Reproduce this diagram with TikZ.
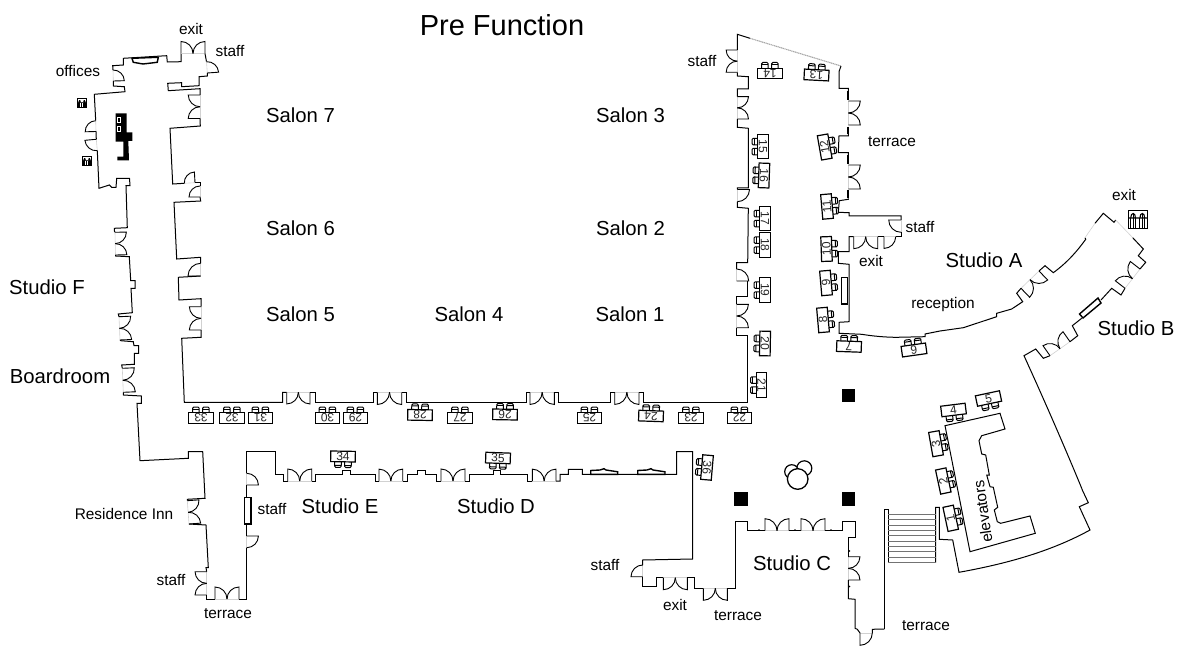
\documentclass[tikz,border=0pt]{standalone}
\usepackage{fontspec}
\setmainfont{Liberation Sans}
\usetikzlibrary{calc}
\tikzset{
 wall/.style={line width=1pt,black,line join=miter},
 leaf/.style={line width=0.9pt,black},
 opening/.style={line width=0.6pt,black!18},
 glaze/.style={line width=1.1pt,black!35,dash pattern=on 1.2pt off 0.6pt},
 post/.style={line width=2.2pt,black},
 counter/.style={line width=1.4pt,black,fill=white},
 blk/.style={fill=black,draw=none},
 big/.style={font=\fontsize{20.3}{22}\selectfont,inner sep=0pt},
 small/.style={font=\fontsize{15.4}{17}\selectfont,inner sep=0pt},
 title/.style={font=\fontsize{29}{31}\selectfont,inner sep=0pt},
 boothnum/.style={font=\fontsize{12}{13}\selectfont,inner sep=0pt,transform shape,text=black!85},
 tbl/.style={line width=1.2pt,black},
 chair/.style={line width=1pt,black},
}
\newcommand\ddoor[3]{%
 \coordinate (dA) at #1; \coordinate (dB) at #2; \coordinate (dM) at ($(dA)!.5!(dB)$);
 \pgfmathsetmacro\dang{-1*(#3)}%
 \coordinate (dT) at ($(dA)!.5!#3:(dB)$);
 \coordinate (dU) at ($(dB)!.5!\dang:(dA)$);
 \draw[opening] (dA)--(dB);
 \draw[leaf] (dA)--(dT) .. controls ($(dT)+.55*(dM)-.55*(dA)$) and ($(dM)+.55*(dT)-.55*(dA)$) .. (dM);
 \draw[leaf] (dB)--(dU) .. controls ($(dU)+.55*(dM)-.55*(dB)$) and ($(dM)+.55*(dU)-.55*(dB)$) .. (dM);
}
\newcommand\sdoor[3]{%
 \coordinate (dA) at #1; \coordinate (dB) at #2;
 \coordinate (dT) at ($(dA)!1!#3:(dB)$);
 \draw[opening] (dA)--(dB);
 \draw[leaf] (dA)--(dT) .. controls ($(dT)+.55*(dB)-.55*(dA)$) and ($(dB)+.55*(dT)-.55*(dA)$) .. (dB);
}
\newcommand\booth[4]{%
 \begin{scope}[shift={(#1,#2)},rotate=#3]
  \draw[chair,rounded corners=1.2pt] (-8.2,5.3)--(-8.2,11)--(-1.6,11)--(-1.6,5.3);
  \draw[chair,rounded corners=1.2pt] (1.8,5.3)--(1.8,11)--(8.4,11)--(8.4,5.3);
  \draw[chair] (-8.2,9)--(-1.6,9) (1.8,9)--(8.4,9);
  \draw[tbl,fill=white] (-12.3,-5.3) rectangle (12.3,5.3);
  \node[boothnum] (n#4) at (0,0) {#4};
 \end{scope}
}
\newcommand\wc[4]{%
 \begin{scope}[shift={(#1,#2)},scale=#3]
  \draw[line width=0.8pt] (0,0) rectangle (9.4,9.2);
  \draw[line width=#4] (1.2,4)--(1.2,9.2) (3.6,4)--(3.6,9.2) (5.8,4)--(5.8,9.2) (8.2,4)--(8.2,9.2) (2.4,1.4)--(2.4,9.2) (7,1.4)--(7,9.2);
  \draw[line width=#4] (1.2,4) .. controls (1.2,1) and (3.6,1) .. (3.6,4) (5.8,4) .. controls (5.8,1) and (8.2,1) .. (8.2,4) (0,4)--(9.4,4);
 \end{scope}
}
\begin{document}
\begin{tikzpicture}[x=1pt,y=-1pt]
\useasboundingbox (0,0) rectangle (1178,647);
% --- west wing
\draw[wall] (95.7,120.7)--(94.3,94.3)--(125,91.7)--(124.3,86.7)--(113.3,86)--(113.3,81);
\sdoor{(113.3,81)}{(113,70)}{-90}
\draw[wall] (113,70)--(112.7,65.7)--(123.3,65)--(123.3,58.3)--(166.7,55.7)--(167.3,62)--(181,61.7)--(181,53.5);
\ddoor{(181,53.5)}{(205,53.5)}{90}
\draw[wall] (205,53.5)--(206.5,61.7);
\sdoor{(207.3,73)}{(206.5,61.7)}{-90}
\draw[wall] (207.3,73)--(207.3,76)--(199,76.7)--(199,85.7)--(181.7,86.7)--(181.7,82.7)--(167.7,83.3)--(168.3,90.7)--(200,88.7)--(200,95);
\ddoor{(200,95)}{(200,118.5)}{-90}
\draw[wall] (200,118.5)--(200.3,126)--(170,128.3)--(172.7,184)--(184.3,183.3);
\sdoor{(195,182.7)}{(184.3,183.3)}{-90}
\draw[wall] (195,182.7)--(200,182.7)--(200,186);
\sdoor{(200,197)}{(200,186)}{90}
\draw[wall] (200,197)--(200.7,201)--(174,202.3)--(176.7,259)--(200.7,257.3)--(200.7,263.3);
\sdoor{(200.7,276)}{(200.7,263.3)}{90}
\draw[wall] (200.7,276)--(178.3,277.3)--(179,300)--(201,298.7)--(201,306.7);
\ddoor{(201,306.7)}{(201,330)}{-90}
\draw[wall] (201,330)--(201,337.3)--(181.7,338.3)--(184.3,402.3)--(282.7,402.3)--(282.7,392.3)--(286.7,392.3);
\ddoor{(286.7,392.3)}{(310,392.3)}{-90}
\draw[wall] (310,392.3)--(315,392.3)--(315,402.3)--(373.3,402.3)--(373.3,392.3)--(377.3,392.3);
\ddoor{(377.3,392.3)}{(401.7,392.3)}{-90}
\draw[wall] (401.7,392.3)--(406.7,392.3)--(406.7,402.3)--(526,402.3)--(526,392.3)--(530,392.3);
\ddoor{(530,392.3)}{(554.3,392.3)}{-90}
\draw[wall] (554.3,392.3)--(558.7,392.3)--(558.7,402.3)--(610.7,402.3)--(610.7,392.3)--(614.7,392.3);
\ddoor{(614.7,392.3)}{(639,392.3)}{-90}
\draw[wall] (639,392.3)--(643,392.3)--(643,402.3)--(747.7,402.3)--(747.7,335)--(736.7,335)--(736.7,327.7);
\ddoor{(736.7,304.3)}{(736.7,327.7)}{90}
\draw[wall] (736.7,304.3)--(736.7,296.7)--(747.7,296.7)--(747.7,281);
\sdoor{(736.7,281)}{(736.7,269)}{-90}
\draw[wall] (736.7,269)--(736.7,262.7)--(747.7,262.7)--(748.3,208.3)--(737.3,207.3)--(737.3,201.7);
\sdoor{(737.3,189.5)}{(737.3,201.7)}{90}
\draw[wall] (737.3,189.5)--(737.3,188)--(748.3,188)--(748.3,128.3)--(737.3,127.3)--(737.3,119);
\ddoor{(737.3,96.7)}{(737.3,119)}{90}
\draw[wall] (737.3,96.7)--(737.3,89)--(748.3,89)--(748.3,76.7)--(737.3,76)--(737.3,72.3);
\ddoor{(737.3,50)}{(737.3,72.3)}{-90}
\draw[wall] (737.3,50)--(737.3,34.3)--(750,38.3);
\draw[glaze] (750,38.3)--(841,66);
\draw[wall] (841,66)--(839,71.7)--(839,88.3)--(848.3,88.3)--(848.3,91);
\draw[post] (848.3,91)--(848.3,100);
\ddoor{(848.3,101)}{(848.3,125)}{90}
\draw[post] (848.3,126.7)--(848.3,134);
\draw[wall] (848.3,134)--(848.3,136)--(839,136)--(838.3,152.7)--(848.3,152.7)--(848.3,155);
\draw[post] (848.3,155.5)--(848.3,164);
\ddoor{(848.3,165)}{(848.3,189)}{90}
\draw[post] (848.3,190)--(848.3,198.3);
\draw[wall] (848.3,198.3)--(848.3,199.3)--(839.3,200.7)--(838.3,212.3)--(849,212.7)--(849,216)--(901,216)--(901,220);
\sdoor{(901,220)}{(901,232.3)}{-90}
\draw[wall] (901,232.3)--(901,236.7)--(895.7,236.7);
\sdoor{(884,236.7)}{(895.7,236.7)}{-90}
\draw[wall] (884,236.7)--(877.7,236.7);
\ddoor{(853.7,236.7)}{(877.7,236.7)}{-90}
\draw[wall] (853.7,236.7)--(849,236.7)--(849,251.7)--(838.3,251.7)--(838.3,263.3)--(849,264.3)--(849,321.7)--(839,322.3)--(839,333.3)--(861.7,334.3) .. controls (872,336) and (885,337.3) .. (896.7,337.3)--(925,336.7)--(925,334)--(940,331)--(963.3,327.7)--(996.7,316.7)--(996.7,313.3)--(1011.7,309)--(1022.7,301.7)--(1016.7,293.3)--(1021,288.3);
\ddoor{(1021,288.3)}{(1039,271)}{-90}
\draw[wall] (1039,271)--(1045,265.7)--(1053.3,272.7) .. controls (1068,262) and (1078,250) .. (1085.7,239.3)--(1085,237.7);
\draw[opening] (1085,237.7)--(1095,223.3);
\draw[wall] (1095,223.3)--(1103.3,213.3)--(1114,222.3)--(1115.7,220);
\draw[opening] (1115.7,220)--(1132.7,237.7);
\draw[wall] (1132.7,237.7)--(1143.3,249)--(1138.3,255.7)--(1145.7,262.3)--(1140,269);
\ddoor{(1140,269)}{(1125,288.3)}{-90}
\draw[wall] (1125,288.3)--(1121,295)--(1111.7,288.3)--(1101,300);
\draw[counter] (1098,298)--(1101,303)--(1083,318)--(1079.5,314)--cycle;
\draw[wall] (1081.7,318.3)--(1072.3,325.7)--(1077.7,335.7)--(1070,341.7);
\ddoor{(1070,341.7)}{(1050,355.7)}{-90}
\draw[wall] (1050,355.7)--(1043.3,358.3)--(1035.7,349)--(1024,355.7)--(1035,380) .. controls (1052,418) and (1068,455) .. (1081.7,488.3)--(1082.3,490)--(1088.3,502.7)--(1079.3,506.7)--(1090,530) .. controls (1050,552) and (1005,564) .. (959,572.3)--(952.7,540)--(939.3,539.3)--(939.3,507.3)--(935.7,507.3)--(935.7,562.7);
% stairs
\draw[wall] (884.3,629)--(884.3,509.3)--(888.3,509.3)--(888.3,562.7);
\foreach \sy in {514.3,519.7,525.1,530.4,535.8,541.2,546.6,551.9,557.3,562.7}
  \draw[line width=1pt,black!55] (888.3,\sy)--(935.7,\sy);
% elevators core
\draw[wall] (945,425.7)--(1000,413.3)--(1005,429)--(981.7,435.7)--(979,440.7)--(981.7,454)--(985.7,455)--(989.3,475)--(986.7,475)--(990,486.7)--(993.3,487.3)--(997.7,507.3)--(994.3,510)--(997.3,521.7)--(1000.7,523.3)--(1030,516)--(1035.3,533.3)--(970,551.7)--cycle;
% --- left side going south
\sdoor{(96,131.5)}{(95.7,120.7)}{90}
\draw[wall] (96,131.5)--(96.3,139.3);
\sdoor{(96.3,139.3)}{(97.3,150.7)}{-90}
\draw[wall] (97.3,150.7)--(99,188.3)--(109.3,185)--(111.7,187.3)--(116,187.3)--(116.7,178.3)--(129.5,178.3)--(130,185.7)--(126,185.7)--(127.3,227.7)--(114.3,228.3)--(114.3,231)--(115,232.3);
\ddoor{(115,232.3)}{(115.5,255)}{90}
\draw[wall] (115.5,255)--(115.7,256)--(129.3,256.7)--(130.7,280.7)--(135,280.7)--(135,288.3)--(131,288.3)--(132.3,312.7)--(118.3,314)--(119,316.7);
\ddoor{(119,316.7)}{(120,340)}{90}
\draw[wall] (120,340)--(120.7,340.7)--(133.3,341.7)--(134,345.7)--(138.7,345.7)--(138.7,353.3)--(134.3,353.3)--(134.3,364.3)--(121.7,365)--(122.3,368.3);
\ddoor{(122.3,368.3)}{(123.3,392.3)}{90}
\draw[wall] (123.3,392.3)--(123.3,395)--(141.3,396)--(141.3,403.3)--(137,403.3)--(140,460.7)--(188.3,458.3)--(188.3,451.7)--(202.7,451.7)--(205,498.3)--(187.3,499.3)--(187.3,500.7);
\ddoor{(187.3,500.7)}{(189,524)}{90}
\draw[wall] (189,524)--(206,525)--(208.3,567.7)--(206,567.7)--(206.7,571.7);
\ddoor{(206.7,571.7)}{(206.7,595)}{-90}
\draw[wall] (206.7,595)--(206.7,599)--(215,599);
\ddoor{(215,599)}{(239,599)}{90}
\draw[wall] (239,599)--(246.7,599)--(246.7,547.7);
\sdoor{(246.7,536)}{(246.7,547.7)}{90}
\draw[wall] (246.7,536)--(246.7,485);
\sdoor{(246.7,485)}{(246.7,473.3)}{-90}
\draw[wall] (246.7,473.3)--(246.7,451.7)--(275,451.7)--(275,474)--(283.3,474)--(283.3,481)--(287.7,481);
\ddoor{(287.7,481)}{(311.7,481)}{90}
\draw[wall] (311.7,481)--(315.7,481)--(315.7,474)--(342.7,474)--(342.7,470)--(350,470)--(350,474)--(375,474)--(375,481)--(379,481);
\ddoor{(379,481)}{(402.7,481)}{90}
\draw[wall] (402.7,481)--(407.3,481)--(407.3,474.3)--(417.3,474.3)--(417.3,470)--(425.7,470)--(425.7,474.3)--(436.7,474.3)--(436.7,481)--(441,481);
\ddoor{(441,481)}{(465,481)}{90}
\draw[wall] (465,481)--(469.3,481)--(469.3,474.3)--(493.3,474.3)--(493.3,470)--(500.7,470)--(500.7,474.3)--(527.3,474.3)--(527.3,481)--(532.3,481);
\ddoor{(532.3,481)}{(556,481)}{90}
\draw[wall] (556,481)--(560,481)--(560,474.3)--(568.3,474.3)--(568.3,469.3)--(582.3,469.3)--(582.3,474.3)--(676.7,474.3)--(676.7,451.7)--(692.7,451.7)--(692.7,559)--(642.7,560)--(642.7,565);
\sdoor{(642.7,576.7)}{(642.7,565)}{90}
\draw[wall] (642.7,576.7)--(642.7,586.7)--(656.7,586.7)--(656.7,577.7)--(663.3,577.7);
\ddoor{(663.3,577.7)}{(687.3,577.7)}{-90}
\draw[wall] (687.3,577.7)--(694,577.7)--(694,588.3)--(703.3,588.3);
\ddoor{(703.3,588.3)}{(727.3,588.3)}{-90}
\draw[wall] (727.3,588.3)--(735,588.3)--(735,521)--(747.7,521)--(747.7,530.7)--(765,530.7);
\ddoor{(765,530.7)}{(789,530.7)}{90}
\draw[wall] (789,530.7)--(801,530.7);
\ddoor{(801,530.7)}{(825,530.7)}{90}
\draw[wall] (825,530.7)--(842.3,530.7)--(842.3,521)--(855,521)--(855,537.7)--(848.3,537.7)--(848.3,556.7);
\ddoor{(848.3,556.7)}{(848.3,580)}{90}
\draw[wall] (848.3,580)--(848.3,598.7)--(855,599.3)--(855,628.3)--(857.3,629.3)--(860,633);
\sdoor{(860,633)}{(872.3,633)}{-90}
\draw[wall] (872.3,633)--(872.3,629.3)--(884.3,629);
\fill (759,530) circle (0.9) (795,530) circle (0.9) (831,530) circle (0.9) (849.5,551) circle (0.9) (849.5,586.5) circle (0.9);
% counters
\draw[counter] (132,58.3)--(158.3,57.3)--(157.3,62.3)--(143,64)--(133.3,62.3)--cycle;
\draw[counter] (244.3,497.3) rectangle (251,524);
\draw[counter] (841.7,277.7) rectangle (847.7,304);
\draw[counter] (590.7,474.3)--(590.7,470.5)--(600,470)--(604,468.7)--(606,470)--(617.7,471.8)--(617.7,474.3)--cycle;
\draw[counter] (637.7,474.3)--(637.7,470.5)--(647,470)--(651,468.7)--(653,470)--(665,471.8)--(665,474.3)--cycle;
% kiosk
\fill[black] (115.7,113.3)--(126.7,113.3)--(126.7,132.3)--(132.3,132.3)--(132.3,141)--(128.3,141)--(129,160.3)--(117.3,160.3)--(117.3,156.7)--(123.3,156.7)--(123.3,141.7)--(115.7,141.7)--cycle;
\draw[white,line width=0.6pt] (117.3,117.3) rectangle (120.7,122.7) (117.3,126) rectangle (120.7,131);
% wc icons
\wc{77.3}{98.7}{1}{0.45pt}
\wc{82.3}{156.7}{1}{0.45pt}
\wc{1128.3}{210}{2}{1.1pt}
% pillars and round tables
\fill[blk] (734.3,492.3) rectangle (747.7,505.7);
\fill[blk] (841.7,492.3) rectangle (855,505.7);
\fill[blk] (841.7,389) rectangle (855.3,402.3);
\draw[line width=1.2pt] (804.3,468.3) circle (7.5) (791.7,471.7) circle (7);
\draw[line width=1.3pt,fill=white] (797.7,479) circle (10.3);
% booths
\booth{201}{418}{180}{33}
\booth{232}{418}{180}{32}
\booth{260.5}{418}{180}{31}
\booth{327.5}{418}{180}{30}
\booth{355.5}{418}{180}{29}
\booth{420}{415}{179}{28}
\booth{460}{418}{180}{27}
\booth{505}{414.5}{179}{26}
\booth{589.5}{418}{180}{25}
\booth{651}{416}{178}{24}
\booth{691}{418}{180}{23}
\booth{739.5}{418}{180}{22}
\booth{761.5}{385}{-90}{21}
\booth{765}{343.5}{-91}{20}
\booth{765}{290}{-90}{19}
\booth{765}{245}{-90}{18}
\booth{765}{218.5}{-90}{17}
\booth{764}{175.5}{-92}{16}
\booth{763}{146.5}{-90}{15}
\booth{770}{73.5}{180}{14}
\booth{816.5}{75}{177}{13}
\booth{824.7}{147}{100}{12}
\booth{827}{206.5}{95}{11}
\booth{826.5}{249}{92}{10}
\booth{826}{283}{95}{9}
\booth{823}{320}{95}{8}
\booth{849}{346.5}{178}{7}
\booth{914}{350}{188}{6}
\booth{988.5}{398.5}{12}{5}
\booth{953.5}{410}{7}{4}
\booth{936}{443.7}{100}{3}
\booth{943.3}{481}{102}{2}
\booth{950.7}{518.3}{102}{1}
\booth{343}{456.5}{-1}{34}
\booth{498}{458}{-2}{35}
\booth{707}{467.5}{-95}{36}
% labels
\node[title] (lt) at (502,25) {Pre Function};
\node[big] (s7) at (300.5,115) {Salon 7};
\node[big] (s3) at (630.5,115) {Salon 3};
\node[big] (s6) at (300.5,228) {Salon 6};
\node[big] (s2) at (630.5,228) {Salon 2};
\node[big] (s5) at (300.5,314) {Salon 5};
\node[big] (s4) at (469,314) {Salon 4};
\node[big] (s1) at (630,314) {Salon 1};
\node[big] (sf) at (47,287) {Studio F};
\node[big] (br) at (60,376) {Boardroom};
\node[big] (sa) at (984,260) {Studio A};
\node[big] (sb) at (1136,328) {Studio B};
\node[big] (sc) at (792,563) {Studio C};
\node[big] (sd) at (496,506) {Studio D};
\node[big] (se) at (340,506) {Studio E};
\node[small] (t1) at (191,29) {exit};
\node[small] (t2) at (230,51) {staff};
\node[small] (t3) at (78,71) {offices};
\node[small] (t4) at (702,61) {staff};
\node[small] (t5) at (892,142) {terrace};
\node[small] (t6) at (1124,195) {exit};
\node[small] (t7) at (920,227) {staff};
\node[small] (t8) at (871,261) {exit};
\node[small] (t9) at (943,305) {reception};
\node[small] (t10) at (124,514) {Residence Inn};
\node[small] (t11) at (272,509) {staff};
\node[small] (t12) at (171,580) {staff};
\node[small] (t13) at (228,614) {terrace};
\node[small] (t14) at (605,565) {staff};
\node[small] (t15) at (675,605) {exit};
\node[small] (t16) at (738,616) {terrace};
\node[small] (t17) at (926,626) {terrace};
\node[small,rotate=98] (t18) at (982.7,511.7) {elevators};
\end{tikzpicture}
\end{document}
